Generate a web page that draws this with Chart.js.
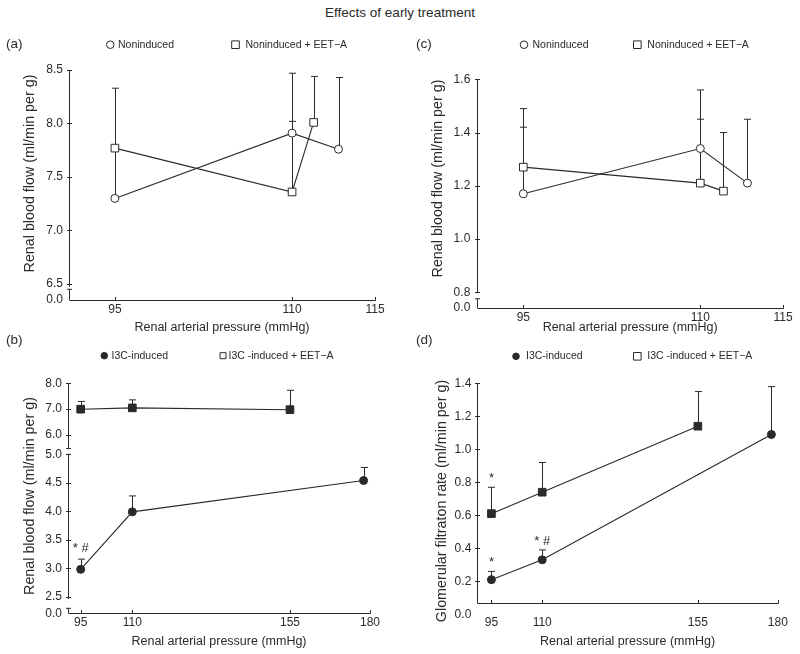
<!DOCTYPE html>
<html>
<head>
<meta charset="utf-8">
<script src="https://cdn.jsdelivr.net/npm/chart.js@4/dist/chart.umd.min.js"></script>
<style>
  body { margin: 0; background: #fff; }
  #wrap { position: relative; width: 800px; height: 654px; }
  #title { position: absolute; left: 0; top: 5px; width: 800px; text-align: center;
           font: 13.5px 'Liberation Sans', Arial, sans-serif; line-height: 16px; color: #2a2a2a; }
  canvas { position: absolute; }
</style>
</head>
<body>
<div id="wrap">
  <div id="title">Effects of early treatment</div>
  <canvas id="chartA" width="400" height="320" style="left:0;top:20px"></canvas>
  <canvas id="chartC" width="400" height="320" style="left:400px;top:20px"></canvas>
  <canvas id="chartB" width="400" height="324" style="left:0;top:330px"></canvas>
  <canvas id="chartD" width="400" height="324" style="left:400px;top:330px"></canvas>
</div>
<script>
const INK = '#2a2a2a';
Chart.defaults.font.family = "'Liberation Sans', Arial, Helvetica, sans-serif";
Chart.defaults.color = INK;

// series names
const nonName = 'Noninduced';
const nonEetName = 'Noninduced + EET\u2212A';
const i3cName = 'I3C-induced';
const i3cEetName = 'I3C -induced + EET\u2212A';
const xTitle = 'Renal arterial pressure (mmHg)';

// (a) renal blood flow
const aPressNon = [95, 110, 112.8];
const aFlowNon = [7.30, 7.91, 7.76];
const aErrNon = [8.33, 8.47, 8.43];
const aPressEet = [95, 110, 111.3];
const aFlowEet = [7.77, 7.36, 8.01];
const aErrEet = [null, 8.02, 8.44];
const aXTicks = [95, 110, 115];
const aYTicks = [0, 6.5, 7.0, 7.5, 8.0, 8.5];

// (c) renal blood flow
const cPressNon = [95, 110, 112.85];
const cFlowNon = [1.17, 1.34, 1.21];
const cErrNon = [1.42, 1.56, 1.45];
const cPressEet = [95, 110, 111.4];
const cFlowEet = [1.27, 1.21, 1.18];
const cErrEet = [1.49, 1.45, 1.40];
const cXTicks = [95, 110, 115];
const cYTicks = [0, 0.8, 1.0, 1.2, 1.4, 1.6];

// (b) renal blood flow, I3C
const bPressI3c = [95, 110, 178];
const bFlowI3c = [2.98, 3.99, 4.54];
const bErrI3c = [3.16, 4.27, 4.77];
const bPressEet = [95, 110, 155];
const bFlowEet = [7.00, 7.05, 6.98];
const bErrEet = [7.30, 7.36, 7.73];
const bXTicks = [95, 110, 155, 180];
const bYTicks = [0, 2.5, 3.0, 3.5, 4.0, 4.5, 5.0, 6.0, 7.0, 8.0];
const bNoteX = [95];
const bNoteY = [3.34];
const bNoteText = ['* #'];

// (d) glomerular filtration rate, I3C
const dPressI3c = [95, 110, 178];
const dGfrI3c = [0.21, 0.33, 1.09];
const dErrI3c = [0.26, 0.39, 1.38];
const dPressEet = [95, 110, 155];
const dGfrEet = [0.61, 0.74, 1.14];
const dErrEet = [0.77, 0.92, 1.35];
const dXTicks = [95, 110, 155, 180];
const dYTicks = [0, 0.2, 0.4, 0.6, 0.8, 1.0, 1.2, 1.4];
const dNoteX = [95, 110, 95];
const dNoteY = [0.824, 0.444, 0.315];
const dNoteText = ['*', '* #', '*'];

// piecewise linear scale, used for the broken / uneven axes
class KnotScale extends Chart.LinearScale {
  buildTicks() {
    return this.options.tickValues.map(v => ({ value: v }));
  }
  getPixelForValue(value) {
    const kv = this.options.knotValues, kf = this.options.knotFracs;
    let i = 0;
    while (i < kv.length - 2 && value > kv[i + 1]) i++;
    const d = kf[i] + (value - kv[i]) * (kf[i + 1] - kf[i]) / (kv[i + 1] - kv[i]);
    return this.getPixelForDecimal(d);
  }
  getValueForPixel(pixel) {
    const kv = this.options.knotValues, kf = this.options.knotFracs;
    const d = this.getDecimalForPixel(pixel);
    let i = 0;
    while (i < kf.length - 2 && d > kf[i + 1]) i++;
    return kv[i] + (d - kf[i]) * (kv[i + 1] - kv[i]) / (kf[i + 1] - kf[i]);
  }
}
KnotScale.id = 'knots';
KnotScale.defaults = Chart.LinearScale.defaults;
Chart.register(KnotScale);

function seg(ctx, x1, y1, x2, y2) {
  ctx.beginPath();
  ctx.moveTo(x1, y1);
  ctx.lineTo(x2, y2);
  ctx.stroke();
}

function marker(ctx, kind, filled, x, y, r) {
  ctx.beginPath();
  if (kind === 'circle') ctx.arc(x, y, r, 0, Math.PI * 2);
  else ctx.rect(x - r, y - r, 2 * r, 2 * r);
  ctx.fillStyle = filled ? INK : '#fff';
  ctx.fill();
  ctx.stroke();
}

const panelArt = {
  id: 'panelArt',
  beforeDatasetsDraw(chart, args, opts) {
    const ctx = chart.ctx, area = chart.chartArea;
    const xs = chart.scales.x, ys = chart.scales.y;
    ctx.save();
    ctx.strokeStyle = INK;
    ctx.lineWidth = 1;
    const ax = Math.round(area.left) + 0.5;
    const ay = Math.round(area.bottom) + 0.5;
    // y axis, in pieces
    opts.ySegments.forEach(s => {
      const y1 = Math.min(ys.getPixelForValue(s[0]), ay);
      const y2 = ys.getPixelForValue(s[1]);
      seg(ctx, ax, y1, ax, y2);
      if (s[2]) seg(ctx, ax - 2.5, y1, ax + 2.5, y1);
      if (s[3]) seg(ctx, ax - 2.5, y2, ax + 2.5, y2);
    });
    ys.ticks.forEach(t => {
      const py = Math.round(ys.getPixelForValue(t.value)) + 0.5;
      if (py < area.top - 1 || py > area.bottom - 2) return;
      seg(ctx, ax - 2.5, py, ax + 2.5, py);
    });
    // x axis
    seg(ctx, ax, ay, Math.round(area.right) + 0.5, ay);
    xs.ticks.forEach(t => {
      const px = Math.round(xs.getPixelForValue(t.value)) + 0.5;
      seg(ctx, px, ay, px, ay - 3.5);
    });
    // error bars (upper only)
    chart.data.datasets.forEach((ds, i) => {
      const meta = chart.getDatasetMeta(i);
      ds.errTop.forEach((e, j) => {
        if (e === null) return;
        const pt = meta.data[j];
        const top = ys.getPixelForValue(e);
        const px = Math.round(pt.x) + 0.5;
        seg(ctx, px, pt.y, px, top);
        seg(ctx, px - 3.5, top, px + 3.5, top);
      });
    });
    ctx.restore();
  },
  afterDraw(chart, args, opts) {
    const ctx = chart.ctx;
    const xs = chart.scales.x, ys = chart.scales.y;
    ctx.save();
    ctx.fillStyle = INK;
    ctx.strokeStyle = INK;
    ctx.lineWidth = 1;
    ctx.textBaseline = 'middle';
    ctx.font = "13.5px 'Liberation Sans', Arial, sans-serif";
    ctx.fillText(opts.label, opts.labelX, opts.labelY);
    // y axis title
    ctx.save();
    ctx.font = "14.3px 'Liberation Sans', Arial, sans-serif";
    ctx.textAlign = 'center';
    ctx.translate(opts.yTitleX, opts.yTitleY);
    ctx.rotate(-Math.PI / 2);
    ctx.fillText(ys.options.title.text, 0, 0);
    ctx.restore();
    // legend
    ctx.font = "10.5px 'Liberation Sans', Arial, sans-serif";
    opts.legend.forEach(it => {
      marker(ctx, it.kind, it.filled, it.mx, opts.legendY, it.r);
      ctx.fillStyle = INK;
      ctx.fillText(it.text, it.tx, opts.legendY);
    });
    // significance marks
    ctx.font = "13px 'Liberation Sans', Arial, sans-serif";
    ctx.textAlign = 'center';
    opts.notes.forEach(n => {
      ctx.fillText(n.text, xs.getPixelForValue(n.x), ys.getPixelForValue(n.y));
    });
    ctx.restore();
  }
};

function series(label, px, py, err, kind, filled) {
  return {
    label: label,
    data: px.map((x, i) => ({ x: x, y: py[i] })),
    errTop: err,
    showLine: true,
    tension: 0,
    borderColor: INK,
    borderWidth: 1.1,
    pointStyle: kind === 'circle' ? 'circle' : 'rect',
    pointRadius: kind === 'circle' ? 4 : 5.4,
    pointBackgroundColor: filled ? INK : '#fff',
    pointBorderColor: INK,
    pointBorderWidth: 1
  };
}

function notes(xv, yv, tv) {
  return xv.map((x, i) => ({ x: x, y: yv[i], text: tv[i] }));
}

function panel(id, p) {
  return new Chart(document.getElementById(id), {
    type: 'scatter',
    data: { datasets: p.datasets },
    options: {
      responsive: false,
      animation: false,
      events: [],
      layout: { padding: p.padding },
      plugins: {
        legend: { display: false },
        tooltip: { enabled: false },
        panelArt: p.art
      },
      scales: {
        x: {
          type: 'knots',
          knotValues: p.xKnots, knotFracs: p.xFracs, tickValues: p.xTicks,
          grid: { display: false, drawTicks: false },
          border: { display: false },
          ticks: { callback: v => String(v), padding: p.xTickPad, font: { size: 12 }, autoSkip: false, maxRotation: 0 },
          title: { display: true, text: xTitle, font: { size: 12.5 }, padding: { top: 0, bottom: p.xTitlePad } },
          afterFit: s => { s.height = p.xHeight; }
        },
        y: {
          type: 'knots',
          knotValues: p.yKnots, knotFracs: p.yFracs, tickValues: p.yTicks,
          grid: { display: false, drawTicks: false },
          border: { display: false },
          ticks: { callback: v => v.toFixed(1), padding: p.yTickPad, font: { size: 12 }, autoSkip: false },
          // drawn by panelArt so it can sit off-centre like the original
          title: { display: false, text: p.yTitle },
          afterFit: s => { s.width = p.yWidth; }
        }
      }
    },
    plugins: [panelArt]
  });
}

panel('chartA', {
  datasets: [
    series(nonName, aPressNon, aFlowNon, aErrNon, 'circle', false),
    series(nonEetName, aPressEet, aFlowEet, aErrEet, 'rect', false)
  ],
  padding: { top: 50, right: 25, bottom: 0, left: 0 },
  xKnots: [95, 110, 115], xFracs: [0.150, 0.729, 1.0], xTicks: aXTicks,
  xTickPad: 2, xTitlePad: 5, xHeight: 40,
  yKnots: [0, 6.5, 8.5], yFracs: [0, 0.0696, 1.0], yTicks: aYTicks,
  yTickPad: 6, yWidth: 69,
  yTitle: 'Renal blood flow (ml/min per g)',
  art: {
    label: '(a)', labelX: 6, labelY: 24.7, legendY: 24.7,
    yTitleX: 30, yTitleY: 153.5,
    legend: [
      { kind: 'circle', filled: false, r: 3.8, mx: 110.3, tx: 118, text: nonName },
      { kind: 'rect', filled: false, r: 3.8, mx: 235.5, tx: 245.5, text: nonEetName }
    ],
    ySegments: [[0, 4.35, 0, 1], [5.4, 8.5, 0, 0]],
    notes: []
  }
});

panel('chartC', {
  datasets: [
    series(nonName, cPressNon, cFlowNon, cErrNon, 'circle', false),
    series(nonEetName, cPressEet, cFlowEet, cErrEet, 'rect', false)
  ],
  padding: { top: 59.3, right: 17, bottom: 0, left: 0 },
  xKnots: [95, 110, 115], xFracs: [0.1505, 0.7295, 1.0], xTicks: cXTicks,
  xTickPad: 2, xTitlePad: 5, xHeight: 32,
  yKnots: [0, 0.8, 1.6], yFracs: [0, 0.0687, 1.0], yTicks: cYTicks,
  yTickPad: 7, yWidth: 77.3,
  yTitle: 'Renal blood flow (ml/min per g)',
  art: {
    label: '(c)', labelX: 16, labelY: 24.7, legendY: 24.7,
    yTitleX: 38.3, yTitleY: 158.5,
    legend: [
      { kind: 'circle', filled: false, r: 3.8, mx: 124, tx: 132.5, text: nonName },
      { kind: 'rect', filled: false, r: 3.8, mx: 237.3, tx: 247.3, text: nonEetName }
    ],
    ySegments: [[0, 0.47, 0, 1], [0.75, 1.6, 0, 0]],
    notes: []
  }
});

panel('chartB', {
  datasets: [
    series(i3cName, bPressI3c, bFlowI3c, bErrI3c, 'circle', true),
    series(i3cEetName, bPressEet, bFlowEet, bErrEet, 'rect', true)
  ],
  padding: { top: 53.3, right: 30, bottom: 0, left: 0 },
  xKnots: [95, 110, 155, 180], xFracs: [0.042, 0.213, 0.735, 1.0], xTicks: bXTicks,
  xTickPad: 2.5, xTitlePad: 5, xHeight: 40.7,
  yKnots: [0, 2.5, 5.0, 6.0, 8.0], yFracs: [0, 0.0722, 0.691, 0.775, 1.0], yTicks: bYTicks,
  yTickPad: 6, yWidth: 68,
  yTitle: 'Renal blood flow (ml/min per g)',
  art: {
    label: '(b)', labelX: 6, labelY: 10, legendY: 25.7,
    yTitleX: 30, yTitleY: 166,
    legend: [
      { kind: 'circle', filled: true, r: 3.3, mx: 104.3, tx: 111.5, text: i3cName },
      { kind: 'rect', filled: false, r: 3, mx: 223, tx: 228.5, text: i3cEetName }
    ],
    ySegments: [[0, 0.75, 0, 1], [2.15, 5.0, 0, 1], [5.3, 8.0, 1, 0]],
    notes: notes(bNoteX, bNoteY, bNoteText)
  }
});

panel('chartD', {
  datasets: [
    series(i3cName, dPressI3c, dGfrI3c, dErrI3c, 'circle', true),
    series(i3cEetName, dPressEet, dGfrEet, dErrEet, 'rect', true)
  ],
  padding: { top: 53.3, right: 17, bottom: 0, left: 0 },
  xKnots: [95, 110, 155, 180], xFracs: [0.047, 0.216, 0.734, 1.0], xTicks: dXTicks,
  xTickPad: 12.2, xTitlePad: 5, xHeight: 50.7,
  yKnots: [0, 1.4], yFracs: [-0.05, 1.0], yTicks: dYTicks,
  yTickPad: 6, yWidth: 77.3,
  yTitle: 'Glomerular filtraton rate (ml/min per g)',
  art: {
    label: '(d)', labelX: 16, labelY: 10, legendY: 26.3,
    yTitleX: 41.7, yTitleY: 171,
    legend: [
      { kind: 'circle', filled: true, r: 3.3, mx: 116, tx: 126, text: i3cName },
      { kind: 'rect', filled: false, r: 3.8, mx: 237.3, tx: 247.3, text: i3cEetName }
    ],
    ySegments: [[0, 1.4, 0, 0]],
    notes: notes(dNoteX, dNoteY, dNoteText)
  }
});
</script>
</body>
</html>
